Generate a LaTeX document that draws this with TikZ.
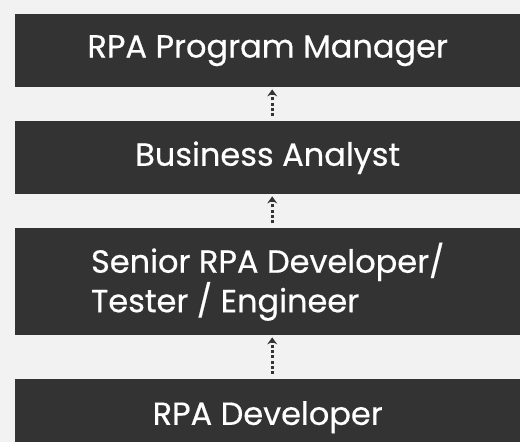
\documentclass[tikz,border=0pt]{standalone}
\usepackage{fontspec}
\setmainfont{Poppins}[FakeBold=0.5]
\usepackage{xcolor}
\usetikzlibrary{arrows.meta,positioning}

\definecolor{bgGray}{HTML}{F2F2F2}
\definecolor{boxGray}{HTML}{333333}

\tikzset{
  rolebox/.style={fill=boxGray, text=white, rectangle, inner sep=0pt,
    minimum width=505pt, font=\fontsize{32}{32}\selectfont, anchor=north west},
  promo/.style={boxGray, line width=3pt, dash pattern=on 3pt off 2.2pt,
    -{Stealth[length=7pt,width=10pt,inset=2.5pt]}, shorten <=5pt, shorten >=2pt}
}

\begin{document}
\begin{tikzpicture}[x=1pt,y=-1pt]

\fill [bgGray] (0,0) rectangle (520,442);
\useasboundingbox (0,0) rectangle (520,442);

\node [rolebox, minimum height=73pt] (manager) at (15,14) {RPA Program Manager};
\node [rolebox, minimum height=73pt] (analyst) at (15,121) {Business Analyst};
\node [rolebox, minimum height=107pt, align=left] (senior) at (15,228) {Senior RPA Developer/\\Tester / Engineer};
\node [rolebox, minimum height=76pt] (developer) at (15,379) {RPA Developer};

\draw [promo] ([xshift=4.5pt]developer.north) -- ([xshift=4.5pt]senior.south);
\draw [promo] ([xshift=4.5pt]senior.north) -- ([xshift=4.5pt]analyst.south);
\draw [promo] ([xshift=4.5pt]analyst.north) -- ([xshift=4.5pt]manager.south);

\end{tikzpicture}
\end{document}
